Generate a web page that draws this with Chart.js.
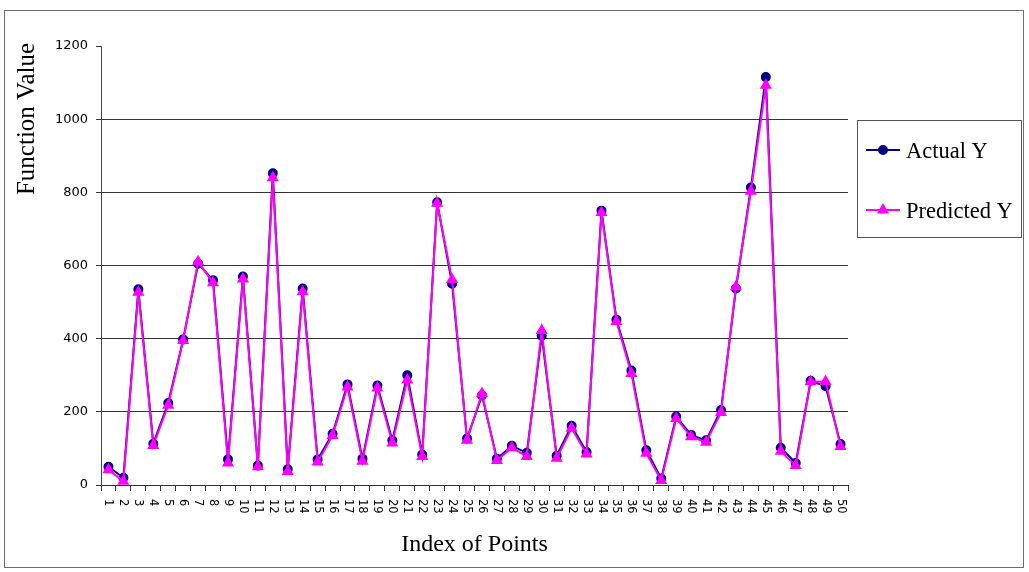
<!DOCTYPE html>
<html>
<head>
<meta charset="utf-8">
<title>Function Value by Index of Points</title>
<script src="https://cdn.jsdelivr.net/npm/chart.js@4/dist/chart.umd.min.js"></script>
<style>
  html, body { margin: 0; padding: 0; background: #ffffff; }
  #chart { display: block; }
</style>
</head>
<body>
<canvas id="chart" width="1029" height="572"></canvas>
<script>
// Point indices along the category axis
const categories = ['1','2','3','4','5','6','7','8','9','10','11','12','13','14','15','16','17','18','19','20',
  '21','22','23','24','25','26','27','28','29','30','31','32','33','34','35','36','37','38','39','40',
  '41','42','43','44','45','46','47','48','49','50'];

// Observed function values
const actualY = [50, 20, 535, 113, 224, 398, 605, 560, 70, 570, 53, 852, 43, 537, 70, 140, 275, 72, 272, 122,
  300, 83, 773, 550, 127, 245, 72, 107, 88, 408, 80, 162, 90, 750, 452, 313, 95, 18, 187, 137,
  122, 205, 537, 813, 1115, 102, 60, 285, 270, 112];

// Model predictions for the same points
const predictedY = [42, 10, 527, 108, 218, 395, 610, 553, 60, 563, 50, 840, 37, 528, 63, 135, 268, 65, 265, 115,
  287, 78, 770, 562, 122, 250, 67, 102, 78, 422, 73, 155, 85, 745, 447, 305, 87, 12, 182, 132,
  117, 198, 542, 803, 1093, 92, 53, 282, 283, 105];

// Value axis ticks
const yTickValues = [0, 200, 400, 600, 800, 1000, 1200];

const seriesNames = ['Actual Y', 'Predicted Y'];
const xTitle = 'Index of Points';
const yTitle = 'Function Value';

const SERIF = '"Liberation Serif", "Times New Roman", serif';
const SANS = '"DejaVu Sans", sans-serif';

// Frame, axis titles, clockwise-rotated category labels and the boxed legend
const decorations = {
  id: 'decorations',
  beforeDraw(chart) {
    const ctx = chart.ctx;
    ctx.save();
    ctx.fillStyle = '#ffffff';
    ctx.fillRect(0, 0, chart.width, chart.height);
    ctx.restore();
  },
  afterDraw(chart) {
    const ctx = chart.ctx;
    const area = chart.chartArea;
    const xScale = chart.scales.x;
    ctx.save();

    // outer frame
    ctx.strokeStyle = '#6e6e6e';
    ctx.lineWidth = 1;
    ctx.strokeRect(4.5, 10.5, 1019, 557);

    // category labels, reading top to bottom
    ctx.fillStyle = '#000000';
    ctx.font = '11.5px ' + SANS;
    ctx.textAlign = 'left';
    ctx.textBaseline = 'middle';
    xScale.ticks.forEach((t, i) => {
      const x = xScale.getPixelForTick(i);
      ctx.save();
      ctx.translate(x, area.bottom + 14);
      ctx.rotate(Math.PI / 2);
      ctx.fillText(String(categories[i]), 0, 0);
      ctx.restore();
    });

    // x axis title
    ctx.font = '24px ' + SERIF;
    ctx.textAlign = 'center';
    ctx.textBaseline = 'alphabetic';
    ctx.fillText(xTitle, (area.left + area.right) / 2, 551);

    // y axis title
    ctx.save();
    ctx.font = '25px ' + SERIF;
    ctx.translate(34, 119);
    ctx.rotate(-Math.PI / 2);
    ctx.fillText(yTitle, 0, 0);
    ctx.restore();

    // legend box
    ctx.strokeStyle = '#555555';
    ctx.lineWidth = 1;
    ctx.strokeRect(857.5, 120.5, 164, 117);
    const rows = [150, 210];
    chart.data.datasets.forEach((ds, i) => {
      const y = rows[i];
      ctx.strokeStyle = ds.borderColor;
      ctx.lineWidth = ds.borderWidth;
      ctx.beginPath();
      ctx.moveTo(866, y);
      ctx.lineTo(900, y);
      ctx.stroke();
      ctx.fillStyle = ds.pointBackgroundColor;
      ctx.strokeStyle = ds.pointBorderColor;
      Chart.helpers.drawPoint(ctx, {
        pointStyle: ds.pointStyle,
        radius: ds.pointRadius,
        rotation: 0,
        borderWidth: 1
      }, 883, y);
      ctx.fillStyle = '#000000';
      ctx.font = '22.5px ' + SERIF;
      ctx.textAlign = 'left';
      ctx.textBaseline = 'alphabetic';
      ctx.fillText(ds.label, 906, y + 8);
    });

    ctx.restore();
  }
};

new Chart(document.getElementById('chart'), {
  type: 'line',
  data: {
    labels: categories,
    datasets: [
      {
        label: seriesNames[0],
        data: actualY,
        borderColor: '#000080',
        backgroundColor: '#000080',
        pointBackgroundColor: '#000080',
        pointBorderColor: '#000080',
        pointStyle: 'circle',
        pointRadius: 4,
        borderWidth: 2,
        tension: 0,
        order: 2
      },
      {
        label: seriesNames[1],
        data: predictedY,
        borderColor: '#ff00ff',
        backgroundColor: '#ff00ff',
        pointBackgroundColor: '#ff00ff',
        pointBorderColor: '#ff00ff',
        pointStyle: 'triangle',
        pointRadius: 5,
        borderWidth: 2,
        tension: 0,
        order: 1
      }
    ]
  },
  options: {
    responsive: false,
    animation: false,
    devicePixelRatio: 1,
    layout: { padding: { left: 0, top: 46, right: 181, bottom: 0 } },
    plugins: {
      legend: { display: false },
      tooltip: { enabled: false },
      title: { display: false }
    },
    scales: {
      x: {
        type: 'category',
        offset: true,
        afterFit(scale) { scale.height = 87; },
        grid: {
          offset: true,
          drawOnChartArea: false,
          drawTicks: true,
          tickLength: 6,
          color: '#333333',
          lineWidth: 1
        },
        border: { display: true, color: '#333333', width: 1 },
        ticks: { display: false, autoSkip: false }
      },
      y: {
        min: 0,
        max: 1200,
        afterFit(scale) { scale.width = 101; },
        afterBuildTicks(scale) { scale.ticks = yTickValues.map(v => ({ value: v })); },
        grid: {
          color: (c) => (c.tick && c.tick.value === 1200) ? 'rgba(0,0,0,0)' : '#333333',
          tickColor: '#333333',
          lineWidth: 1,
          tickLength: 5,
          drawTicks: true
        },
        border: { display: true, color: '#444444', width: 1 },
        ticks: {
          color: '#000000',
          font: { family: 'DejaVu Sans', size: 13 },
          padding: 8,
          callback: (v) => String(v)
        }
      }
    }
  },
  plugins: [decorations]
});
</script>
</body>
</html>
